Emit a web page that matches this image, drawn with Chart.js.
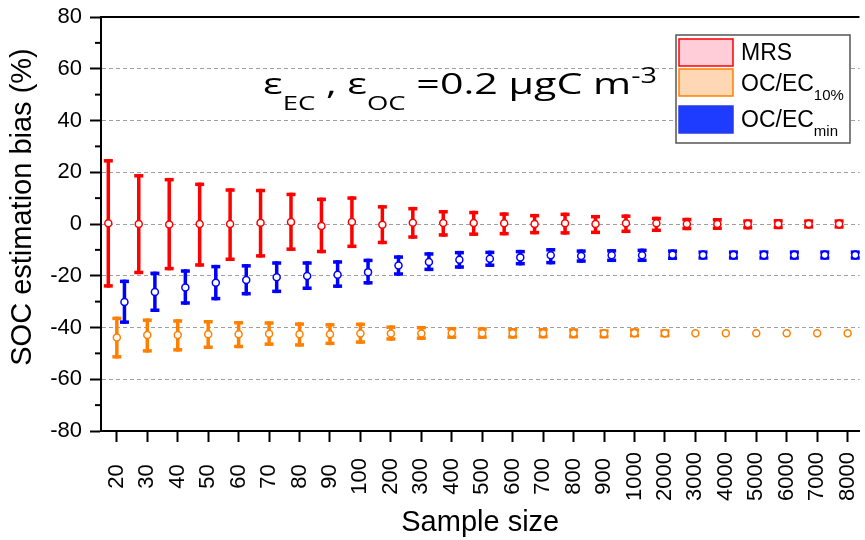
<!DOCTYPE html>
<html><head><meta charset="utf-8">
<script src="https://cdn.jsdelivr.net/npm/chart.js@4/dist/chart.umd.min.js"></script>
<style>html,body{margin:0;padding:0;background:#fff;overflow:hidden}</style>
</head><body>
<canvas id="c" width="865" height="540"></canvas>
<script>
// ---------- data ----------
const sampleSizes = ['20','30','40','50','60','70','80','90','100','200','300','400','500','600','700','800','900','1000','2000','3000','4000','5000','6000','7000','8000'];

const mrsMean = [0.3, 0, -0.2, 0, 0, 0.5, 0.8, -0.8, 0.8, -0.3, 0.5, 0.4, 0.4, 0.3, 0, 0.3, 0, 0.3, 0.3, 0, 0, 0, 0, 0, 0];
const mrsHigh = [25.1, 19.3, 17.8, 16.0, 13.8, 13.6, 12.1, 10.2, 10.7, 7.3, 6.6, 5.4, 5.1, 4.5, 3.9, 4.4, 3.5, 3.7, 2.8, 2.4, 2.3, 1.8, 1.9, 1.8, 1.8];
const mrsLow  = [-24.6, -19.4, -17.9, -16.5, -14.3, -13.0, -10.4, -11.3, -9.3, -7.8, -5.7, -4.9, -4.6, -4.4, -4.0, -4.1, -3.9, -3.5, -3.1, -2.4, -2.3, -2.1, -2.0, -1.8, -1.8];

const oc10Mean = [-43.9, -42.9, -42.9, -42.6, -42.6, -42.4, -42.6, -42.6, -42.3, -42.3, -42.3, -42.1, -42.2, -42.2, -42.2, -42.2, -42.3, -42.1, -42.2, -42.2, -42.2, -42.2, -42.2, -42.2, -42.2];
const oc10High = [-35.8, -36.5, -36.8, -37.1, -37.5, -37.6, -38.0, -38.3, -38.1, -39.2, -39.4, -39.8, -39.9, -40.2, -40.2, -40.3, -40.7, -40.3, -40.7, -42.2, -42.2, -42.2, -42.2, -42.2, -42.2];
const oc10Low  = [-52.0, -49.7, -49.3, -48.3, -48.0, -47.1, -47.4, -46.8, -46.3, -45.1, -44.8, -44.4, -44.4, -44.3, -44.2, -44.2, -44.2, -43.8, -43.8, -42.2, -42.2, -42.2, -42.2, -42.2, -42.2];

const ocMinMean = [-30.1, -26.3, -24.5, -22.7, -21.6, -20.6, -20.1, -19.6, -18.6, -16.0, -14.7, -13.8, -13.4, -12.9, -12.1, -12.4, -12.1, -12.1, -11.9, -12.0, -12.0, -12.0, -12.0, -12.0, -12.0];
const ocMinHigh = [-21.5, -18.4, -17.5, -15.8, -15.5, -14.4, -14.4, -14.0, -13.4, -12.1, -10.9, -10.4, -10.3, -10.0, -9.3, -9.8, -9.7, -9.5, -9.8, -10.2, -10.2, -10.2, -10.2, -10.2, -10.2];
const ocMinLow  = [-38.6, -34.0, -31.2, -29.5, -27.6, -26.7, -25.5, -24.7, -23.4, -20.0, -18.2, -17.3, -16.6, -16.0, -15.6, -15.0, -14.7, -14.7, -13.9, -13.8, -13.8, -13.8, -13.8, -13.8, -13.8];

const seriesNames = ['MRS', 'OC/EC', 'OC/EC'];
const seriesSubs  = ['', '10%', 'min'];

// ---------- styles ----------
const RED = 'rgb(255,0,0)', ORANGE = 'rgb(255,128,0)', BLUE = 'rgb(0,0,255)';
const FILLS = ['rgb(255,205,215)', 'rgb(255,215,180)', 'rgb(30,60,255)'];
const STROKES = [RED, ORANGE, 'rgb(40,60,230)'];
const OFFS = [-0.28, 0, 0.25];
const SANS = '"Liberation Sans", Arial, sans-serif';

function pts(arr, off) { return arr.map((v, i) => ({ x: i + off, y: v })); }

function ds(idx, mean, hi, lo, color) {
  return {
    label: seriesNames[idx] + seriesSubs[idx],
    data: pts(mean, OFFS[idx]),
    errHigh: hi, errLow: lo,
    showLine: false,
    borderColor: color,
    backgroundColor: '#fff',
    pointBackgroundColor: '#fff',
    pointBorderColor: color,
    pointBorderWidth: 1.5,
    pointRadius: 3.5,
    seriesIndex: idx
  };
}

const errorBars = {
  id: 'errorBars',
  beforeDatasetsDraw(chart) {
    const { ctx } = chart; const y = chart.scales.y;
    chart.data.datasets.forEach((d, di) => {
      const meta = chart.getDatasetMeta(di);
      ctx.save();
      ctx.fillStyle = d.borderColor;
      meta.data.forEach((p, i) => {
        const yh = y.getPixelForValue(d.errHigh[i]);
        const yl = y.getPixelForValue(d.errLow[i]);
        if (yl - yh < 1) return;
        ctx.fillRect(p.x - 1.75, yh, 3.5, yl - yh);
        ctx.fillRect(p.x - 4.5, yh, 9, 3.5);
        ctx.fillRect(p.x - 4.5, yl - 3.5, 9, 3.5);
      });
      ctx.restore();
    });
  }
};

const decorations = {
  id: 'decorations',
  afterDraw(chart) {
    const { ctx, chartArea: a } = chart; const y = chart.scales.y;
    ctx.save();
    // top frame
    ctx.strokeStyle = '#000'; ctx.lineWidth = 2;
    ctx.beginPath(); ctx.moveTo(a.left - 1, a.top); ctx.lineTo(a.right, a.top); ctx.stroke();
    // minor y ticks
    for (let v = y.min + 10; v < y.max; v += 20) {
      const py = y.getPixelForValue(v);
      ctx.beginPath(); ctx.moveTo(a.left - 6, py); ctx.lineTo(a.left, py); ctx.stroke();
    }
    // y title
    ctx.save();
    ctx.translate(23, 207); ctx.rotate(-Math.PI / 2);
    ctx.font = '29px ' + SANS; ctx.fillStyle = '#000';
    ctx.textAlign = 'center'; ctx.textBaseline = 'middle';
    ctx.fillText('SOC estimation bias (%)', 0, 0);
    ctx.restore();

    // annotation (horizontally stretched like the source image)
    const big = '30px "Open Sans", sans-serif', small = '20px "Open Sans", sans-serif', sup = '21px "Open Sans", sans-serif';
    const base = 94;
    const parts = [
      ['\u03b5', big, 0], ['EC', small, 16], [' , ', big, 0], ['\u03b5', big, 0], ['OC', small, 16],
      [' =0.2 \u00b5gC m', big, 0], ['-3', sup, -11]
    ];
    let total = 0;
    parts.forEach(([t, f]) => { ctx.font = f; total += ctx.measureText(t).width; });
    const sx = 394 / total;
    ctx.save();
    ctx.translate(263, 0); ctx.scale(sx, 1);
    let x = 0;
    ctx.fillStyle = '#000'; ctx.textBaseline = 'alphabetic'; ctx.textAlign = 'left';
    parts.forEach(([t, f, dy]) => { ctx.font = f; ctx.fillText(t, x, base + dy); x += ctx.measureText(t).width; });
    ctx.restore();

    // legend
    const L = 676, T = 35, R = 850, B = 143;
    ctx.fillStyle = '#fff'; ctx.fillRect(L, T, R - L, B - T);
    ctx.strokeStyle = '#555'; ctx.lineWidth = 1.5; ctx.strokeRect(L, T, R - L, B - T);
    const rows = [[39, 66], [69, 96], [106, 133]];
    const baselines = [[60, 0], [91, 100], [127, 136]];
    chart.data.datasets.slice().sort((p, q) => p.seriesIndex - q.seriesIndex).forEach(d => {
      const k = d.seriesIndex;
      ctx.fillStyle = FILLS[k]; ctx.fillRect(679, rows[k][0], 54, rows[k][1] - rows[k][0]);
      ctx.strokeStyle = STROKES[k]; ctx.lineWidth = 1.5; ctx.strokeRect(679, rows[k][0], 54, rows[k][1] - rows[k][0]);
      ctx.fillStyle = '#000'; ctx.font = '23px ' + SANS;
      ctx.fillText(seriesNames[k], 741, baselines[k][0]);
      if (seriesSubs[k]) {
        const w = ctx.measureText(seriesNames[k]).width;
        ctx.font = '15px ' + SANS;
        ctx.fillText(seriesSubs[k], 741 + w, baselines[k][1]);
      }
    });
    ctx.restore();
  }
};

function padLabel(s) {
  const n = (4 - s.length);
  return ' '.repeat(n) + s + ' '.repeat(n);
}

new Chart(document.getElementById('c'), {
  type: 'scatter',
  data: {
    datasets: [
      ds(1, oc10Mean, oc10High, oc10Low, ORANGE),
      ds(2, ocMinMean, ocMinHigh, ocMinLow, BLUE),
      ds(0, mrsMean, mrsHigh, mrsLow, RED)
    ]
  },
  options: {
    responsive: false,
    animation: false,
    layout: { padding: { top: 17, right: 0, bottom: 0, left: 0 } },
    plugins: { legend: { display: false }, tooltip: { enabled: false } },
    scales: {
      x: {
        type: 'linear', min: -0.52, max: 24.39,
        afterBuildTicks: s => { s.ticks = sampleSizes.map((_, i) => ({ value: i })); },
        afterFit: s => { s.height = 109; s.paddingLeft = 0; s.paddingRight = 0; },
        ticks: {
          autoSkip: false, minRotation: 90, maxRotation: 90, padding: 10,
          color: '#000', font: { size: 22, family: SANS },
          callback: v => padLabel(sampleSizes[v])
        },
        grid: { drawOnChartArea: false, tickLength: 11, tickWidth: 2, tickColor: '#000' },
        border: { display: true, color: '#000', width: 2 },
        title: { display: true, text: 'Sample size', color: '#000', font: { size: 29, family: SANS }, padding: { top: 0, bottom: 0 } }
      },
      y: {
        min: -80, max: 80,
        afterFit: s => { s.width = 101; s.paddingTop = 0; s.paddingBottom = 0; },
        ticks: { stepSize: 20, padding: 8, color: '#000', font: { size: 22, family: SANS } },
        grid: {
          color: c => (c.tick && (c.tick.value === 80 || c.tick.value === -80)) ? 'rgba(0,0,0,0)' : '#a0a0a0',
          lineWidth: 1, tickLength: 11, tickWidth: 2, tickColor: '#000', tickBorderDash: []
        },
        border: { display: true, color: '#000', width: 2, dash: [4, 3] }
      }
    }
  },
  plugins: [errorBars, decorations]
});
</script>
</body></html>
